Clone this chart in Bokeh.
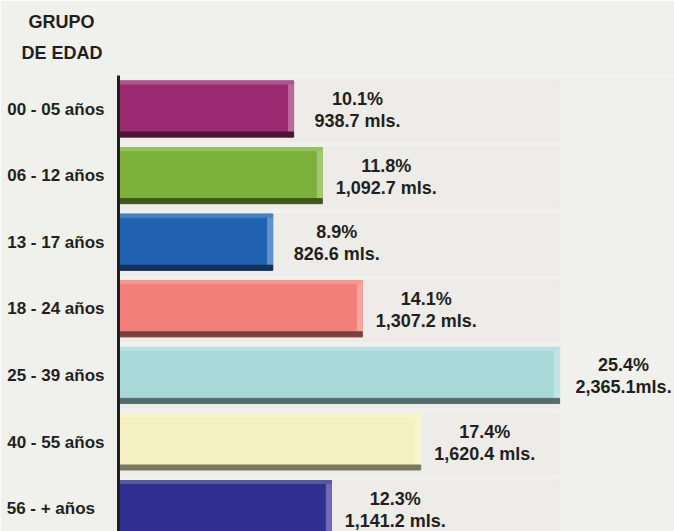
from bokeh.plotting import figure
from bokeh.models import Range1d, FixedTicker, Title, ColumnDataSource
from bokeh.embed import file_html
from bokeh.resources import INLINE
from bokeh.core.properties import value

# ---- data ----
categories = ["00 - 05 años", "06 - 12 años", "13 - 17 años", "18 - 24 años",
              "25 - 39 años", "40 - 55 años", "56 -   + años"]
values = [938.7, 1092.7, 826.6, 1307.2, 2365.1, 1620.4, 1141.2]
percents = [10.1, 11.8, 8.9, 14.1, 25.4, 17.4, 12.3]
value_labels = ["938.7 mls.", "1,092.7 mls.", "826.6 mls.", "1,307.2 mls.",
                "2,365.1mls.", "1,620.4 mls.", "1,141.2 mls."]
colors = ["#9b2a70", "#7cb23b", "#1f62b0", "#f27e78", "#a9d8d8", "#f4f1c1", "#2e2f8f"]
header = ["GRUPO", "DE EDAD"]

pct_labels = [f"{p:.1f}%" for p in percents]
idx = list(range(len(categories)))

# ---- geometry (pixels) ----
W, H = 674, 531
FRAME_LEFT, FRAME_TOP = 118, 75
PX_X = 0.1865          # px per data unit (mls.)
ROW_PX = 66.6          # px per category row
FIRST_ROW = 33.5       # px from frame top to first row centre
BAR_PX = 56

frame_w = W - FRAME_LEFT
frame_h = H - FRAME_TOP
y_top = -FIRST_ROW / ROW_PX


def hexrgb(c):
    c = c.lstrip("#")
    return [int(c[i:i + 2], 16) for i in (0, 2, 4)]


def mix(c, target, f):
    r = hexrgb(c)
    return "#%02x%02x%02x" % tuple(int(round(a + (t - a) * f)) for a, t in zip(r, target))


def darken(c, f):
    return mix(c, (0, 0, 0), f)


def lighten(c, f):
    return mix(c, (255, 255, 255), f)


BG = "#f0f0ec"
INK = "#231f20"
FONT = "Liberation Sans"

p = figure(width=W, height=H, output_backend="svg", toolbar_location=None,
           x_range=Range1d(0, frame_w / PX_X),
           y_range=Range1d(y_top + frame_h / ROW_PX, y_top),
           min_border_left=FRAME_LEFT, min_border_top=FRAME_TOP,
           min_border_right=0, min_border_bottom=0)
p.background_fill_color = BG
p.border_fill_color = BG
p.outline_line_color = None
p.xgrid.visible = False
p.ygrid.visible = False
p.xaxis.visible = False

h = BAR_PX / ROW_PX
px_y = 1 / ROW_PX
px_x = 1 / PX_X

src = ColumnDataSource(dict(
    y=idx, v=values, c=colors,
    rl=[v - 5 * px_x for v in values],
    rgt=[lighten(c, 0.3) for c in colors],
    pct=pct_labels, val=value_labels,
))

# subtle row bands
p.hbar(y=[i + 2 * px_y for i in idx], left=0, right=max(values), height=61 * px_y,
       color="#e9e8e5", alpha=0.5)

# bars
p.hbar(y="y", left=0, right="v", height=h, color="c", source=src)
# right highlight
p.hbar(y="y", left="rl", right="v", height=h, color="rgt", source=src)
# top highlight
p.hbar(y=[i - h / 2 + 1.5 * px_y for i in idx], left=0, right=values,
       height=3 * px_y, color=[lighten(c, 0.2) for c in colors])
# bottom shade
p.hbar(y=[i + h / 2 - 2.5 * px_y for i in idx], left=0, right=values,
       height=5 * px_y, color=[darken(c, 0.5) for c in colors])

# value labels
common = dict(text_align="center", text_baseline="middle",
              text_font=value(FONT), text_font_style="bold",
              text_font_size="18px", text_color=INK, source=src)
p.text(x="v", y="y", text="pct", x_offset=64, y_offset=-10, **common)
p.text(x="v", y="y", text="val", x_offset=64, y_offset=12, **common)

# y axis with category labels
ax = p.yaxis[0]
ax.ticker = FixedTicker(ticks=idx)
ax.major_label_overrides = {i: c for i, c in zip(idx, categories)}
ax.major_tick_line_color = None
ax.minor_tick_line_color = None
ax.axis_line_color = INK
ax.axis_line_width = 3
ax.major_label_standoff = 8
ax.major_label_text_font = FONT
ax.major_label_text_font_style = "bold"
ax.major_label_text_font_size = "17px"
ax.major_label_text_color = INK

# header: titles stack outward from the frame, so add the lower line first
for t, off, so in reversed(list(zip(header, [-90, -97], [-8, 25.5]))):
    p.add_layout(Title(text=t, align="left", offset=off, standoff=so,
                       text_font=FONT, text_font_style="bold",
                       text_font_size="18px", text_color=INK), "above")

open("out.html", "w").write(file_html(p, INLINE))
